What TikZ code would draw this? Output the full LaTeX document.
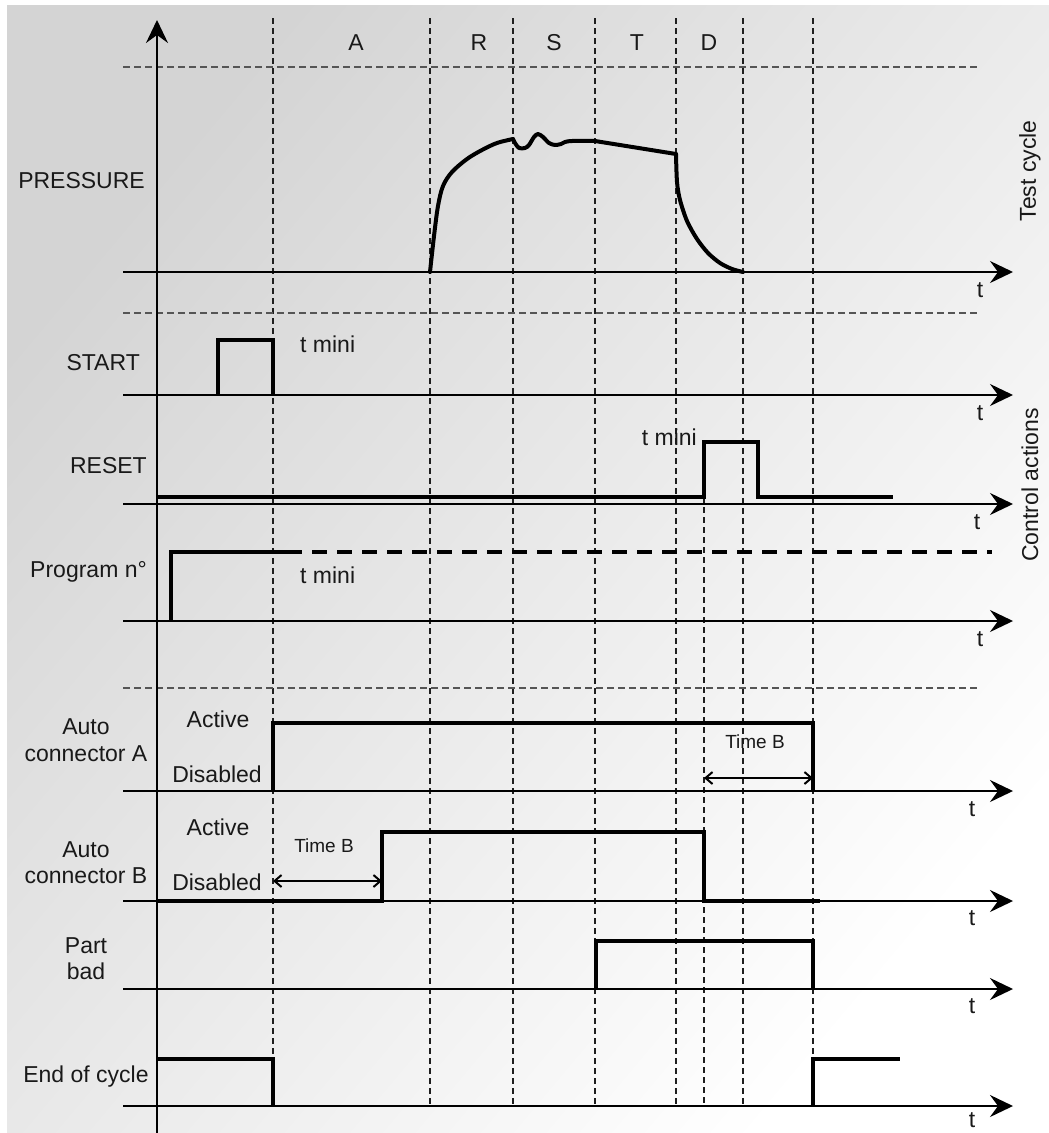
\documentclass[tikz,border=0pt]{standalone}
\usepackage{fontspec}
\setmainfont{Liberation Sans}
\usetikzlibrary{arrows.meta}
\definecolor{bgdark}{RGB}{212,212,212}
\definecolor{gridc}{RGB}{30,30,30}
\definecolor{sepc}{RGB}{85,85,85}
\begin{document}
\begin{tikzpicture}[x=1pt,y=-1pt,
  axisline/.style={line width=2pt,black,-{Stealth[length=23pt,width=22pt,inset=8pt]}},
  sig/.style={line width=4pt,black,line join=miter},
  vgrid/.style={line width=1.3pt,gridc,dash pattern=on 6pt off 4pt},
  hsep/.style={line width=1.3pt,sepc,dash pattern=on 7pt off 4pt},
  lbl/.style={font=\fontsize{23}{27}\selectfont,inner sep=0pt,text=black!90},
  small/.style={font=\fontsize{19}{22}\selectfont,inner sep=0pt,text=black!90},
  dim/.style={line width=2pt,black,{Straight Barb[length=7pt,width=12pt]}-{Straight Barb[length=7pt,width=12pt]}}
]
\useasboundingbox (0,0) rectangle (1049,1133);
\shade[top color=bgdark,bottom color=white,shading angle=50] (7,5) rectangle (1049,1133);

% vertical grid lines
\foreach \x in {273,430,513,595,676,743,813}
  \draw[vgrid] (\x,18) -- (\x,1106);
\draw[vgrid] (704,497) -- (704,1106);

% horizontal separators
\foreach \y in {67,313,688}
  \draw[hsep] (123,\y) -- (980,\y);

% phase letters
\node[lbl,anchor=base] (phA) at (356,50) {A};
\node[lbl,anchor=base] (phR) at (479,50) {R};
\node[lbl,anchor=base] (phS) at (554,50) {S};
\node[lbl,anchor=base] (phT) at (637,50) {T};
\node[lbl,anchor=base] (phD) at (709,50) {D};

% vertical axis
\coordinate (v0) at (157,1133);
\coordinate (v1) at (157,20);
\draw[axisline] (v0) -- (v1);

% horizontal axes
\foreach \n/\y/\tx/\dy in {pr/272/980/25, st/395/980/25, rs/504/977/25, pg/621/980/25, ca/791/972/25, cb/901/972/24, pb/989/972/24, ec/1106/972/21} {
  \coordinate (\n0) at (123,\y);
  \coordinate (\n1) at (1013,\y);
  \draw[axisline] (\n0) -- (\n1);
  \node[lbl,anchor=base] (\n-t) at (\tx,\y+\dy) {t};
}

% pressure curve
\draw[sig,line cap=round,line join=round] plot[smooth,tension=0.55] coordinates {
  (430,272) (434,236) (438,206) (443,186) (452,172) (467,159) (482,150) (497,143) (513,139)};
\draw[sig,line cap=round,line join=round] plot[smooth,tension=0.5] coordinates {
  (513,139) (515,143) (519,148) (525,148) (529,145) (534,137) (538,134) (543,137) (549,143) (555,145) (561,144) (565,142) (572,141) (595,141)};
\draw[sig,line cap=round,line join=round] (595,141) -- (676,154);
\draw[sig,line cap=round,line join=round] plot[smooth,tension=0.5] coordinates {
  (676,154) (677,182) (680,200) (687,221) (697,239) (708,253) (720,263) (732,269) (743,272)};

% START
\draw[sig] (218,395) -- (218,340) -- (273,340) -- (273,395);
% RESET
\draw[sig] (157,497) -- (704,497) -- (704,442) -- (758,442) -- (758,497) -- (893,497);
% Program
\draw[sig] (171,621) -- (171,552) -- (287,552);
\draw[sig,dash pattern=on 15pt off 10pt] (287,552) -- (992,552);
% Auto connector A
\draw[sig] (273,791) -- (273,723) -- (813,723) -- (813,791);
% Auto connector B
\draw[sig] (157,901) -- (382,901) -- (382,832) -- (704,832) -- (704,901) -- (820,901);
% Part bad
\draw[sig] (596,989) -- (596,941) -- (813,941) -- (813,989);
% End of cycle
\draw[sig] (157,1059) -- (273,1059) -- (273,1106);
\draw[sig] (813,1106) -- (813,1059) -- (900,1059);

% Time B dimension arrows
\coordinate (tbA0) at (704,778);
\coordinate (tbA1) at (813,778);
\draw[dim] (tbA0) -- (tbA1);
\node[small,anchor=base] (tbAl) at (755,748) {Time B};
\coordinate (tbB0) at (273,881);
\coordinate (tbB1) at (382,881);
\draw[dim] (tbB0) -- (tbB1);
\node[small,anchor=base] (tbBl) at (324,852) {Time B};

% left labels
\node[lbl,anchor=base east] (lPress) at (145,188) {PRESSURE};
\node[lbl,anchor=base east] (lStart) at (140,370) {START};
\node[lbl,anchor=base east] (lReset) at (147,473) {RESET};
\node[lbl,anchor=base east] (lProg) at (147,577) {Program n°};
\node[lbl,anchor=base west] (tm1) at (300,352) {t mini};
\node[lbl,anchor=base east] (tm2) at (697,445) {t mini};
\node[lbl,anchor=base west] (tm3) at (300,583) {t mini};

\node[lbl,anchor=base] (lA1) at (86,734) {Auto};
\node[lbl,anchor=base] (lA2) at (86,761) {connector A};
\node[lbl,anchor=base] (actA) at (218,727) {Active};
\node[lbl,anchor=base] (disA) at (217,782) {Disabled};

\node[lbl,anchor=base] (lB1) at (86,857) {Auto};
\node[lbl,anchor=base] (lB2) at (86,883) {connector B};
\node[lbl,anchor=base] (actB) at (218,835) {Active};
\node[lbl,anchor=base] (disB) at (217,890) {Disabled};

\node[lbl,anchor=base] (lP1) at (86,953) {Part};
\node[lbl,anchor=base] (lP2) at (86,979) {bad};
\node[lbl,anchor=base] (lEnd) at (86,1082) {End of cycle};

% right rotated labels
\node[lbl,rotate=90] (rTest) at (1030,171) {Test cycle};
\node[lbl,rotate=90] (rCtrl) at (1030,485) {Control actions};
\end{tikzpicture}
\end{document}
